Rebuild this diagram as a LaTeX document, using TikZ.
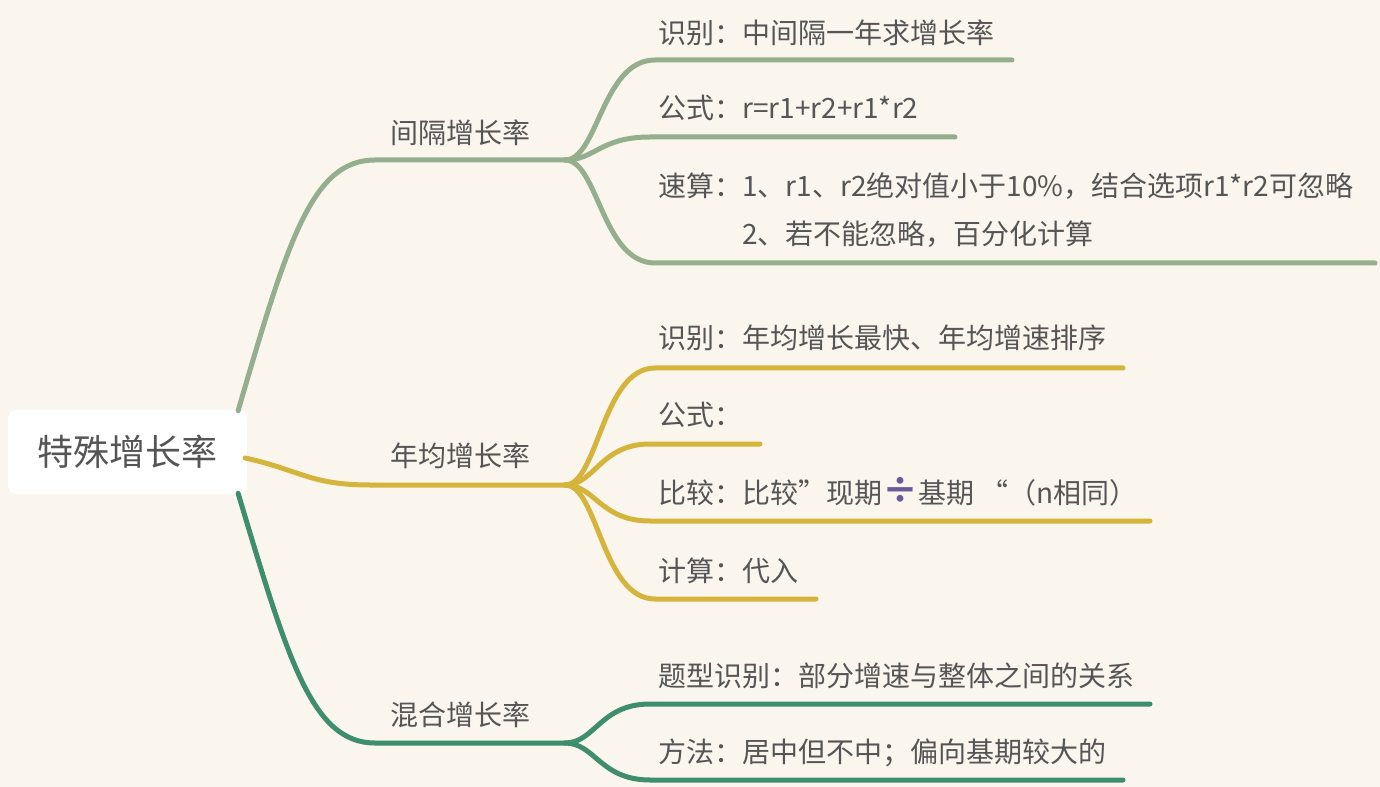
\documentclass[tikz,border=0pt]{standalone}
\usepackage{fontspec}
\newfontfamily\cjk{Noto Sans CJK SC}
\usepackage{xcolor}
\usetikzlibrary{positioning,calc}
\definecolor{bgcream}{HTML}{FAF6EE}
\definecolor{inkgray}{HTML}{555555}
\definecolor{sage}{HTML}{94AE8E}
\definecolor{mustard}{HTML}{D4B43A}
\definecolor{pine}{HTML}{3E8E6E}
\definecolor{divpurple}{HTML}{6A5A9A}

\begin{document}
\begin{tikzpicture}[
    x=0.75pt, y=-0.75pt,
    font=\cjk\fontsize{21}{36}\selectfont,
    text=inkgray,
    lbl/.style={anchor=base west, inner sep=0pt, align=left},
    rootbox/.style={fill=white, rounded corners=6pt, minimum width=179pt, minimum height=63pt, inner sep=0pt, font=\cjk\fontsize{27}{30}\selectfont},
    branch/.style={line width=3.75pt, line cap=round}
]
    % Background and page size
    \fill[bgcream] (0,0) rectangle (1380,787);

    % Root
    \node[rootbox] (root) at (127.5,452) {特殊增长率};

    % Branch labels
    \node[lbl] (gap) at (390,144) {间隔增长率};
    \node[lbl] (avg) at (390,466) {年均增长率};
    \node[lbl] (mix) at (390,725) {混合增长率};

    % Junctions
    \coordinate (gapJ) at (565,160);
    \coordinate (avgJ) at (565,485);
    \coordinate (mixJ) at (565,743);

    % Main branches
    \draw[branch, sage] ($(root.north east)+(-9,1)$) .. controls (288,240) and (312,160) .. (375,160) -- (gapJ);
    \draw[branch, mustard] ($(root.east)+(-2,6)$) .. controls (300,470) and (310,485) .. (370,485) -- (avgJ);
    \draw[branch, pine] ($(root.south east)+(-9,-1)$) .. controls (288,660) and (312,743) .. (375,743) -- (mixJ);

    % Interval growth: leaves
    \node[lbl] (gapA) at (658,44) {识别：中间隔一年求增长率};
    \node[lbl] (gapB) at (658,119) {公式：r=r1+r2+r1*r2};
    \node[lbl] (gapC) at (658,245) {速算：1、r1、r2绝对值小于10\%，结合选项r1*r2可忽略\\\hspace{3em}2、若不能忽略，百分化计算};
    \coordinate (gapAe) at (1012,60);
    \coordinate (gapBe) at (955,137);
    \coordinate (gapCe) at (1375,263);
    \draw[branch, sage] (gapJ) .. controls (598,160) and (602,60) .. (655,60) -- (gapAe);
    \draw[branch, sage] (gapJ) .. controls (595,160) and (600,137) .. (650,137) -- (gapBe);
    \draw[branch, sage] (gapJ) .. controls (598,160) and (602,263) .. (655,263) -- (gapCe);

    % Average growth: leaves
    \node[lbl] (avgA) at (658,349) {识别：年均增长最快、年均增速排序};
    \node[lbl] (avgB) at (658,426) {公式：};
    \node[lbl] (avgC) at (658,503) {比较：比较”现期{\color{divpurple}\fontsize{27}{36}\selectfont\bfseries ÷}基期 “（n相同）};
    \node[lbl] (avgD) at (658,581) {计算：代入};
    \coordinate (avgAe) at (1123,368);
    \coordinate (avgBe) at (760,444);
    \coordinate (avgCe) at (1150,521);
    \coordinate (avgDe) at (816,599);
    \draw[branch, mustard] (avgJ) .. controls (598,485) and (602,368) .. (655,368) -- (avgAe);
    \draw[branch, mustard] (avgJ) .. controls (595,485) and (600,444) .. (650,444) -- (avgBe);
    \draw[branch, mustard] (avgJ) .. controls (595,485) and (600,521) .. (650,521) -- (avgCe);
    \draw[branch, mustard] (avgJ) .. controls (598,485) and (602,599) .. (655,599) -- (avgDe);

    % Mixed growth: leaves
    \node[lbl] (mixA) at (658,686) {题型识别：部分增速与整体之间的关系};
    \node[lbl] (mixB) at (658,762) {方法：居中但不中；偏向基期较大的};
    \coordinate (mixAe) at (1150,704);
    \coordinate (mixBe) at (1123,780);
    \draw[branch, pine] (mixJ) .. controls (595,743) and (600,704) .. (650,704) -- (mixAe);
    \draw[branch, pine] (mixJ) .. controls (595,743) and (600,780) .. (650,780) -- (mixBe);
\end{tikzpicture}
\end{document}
